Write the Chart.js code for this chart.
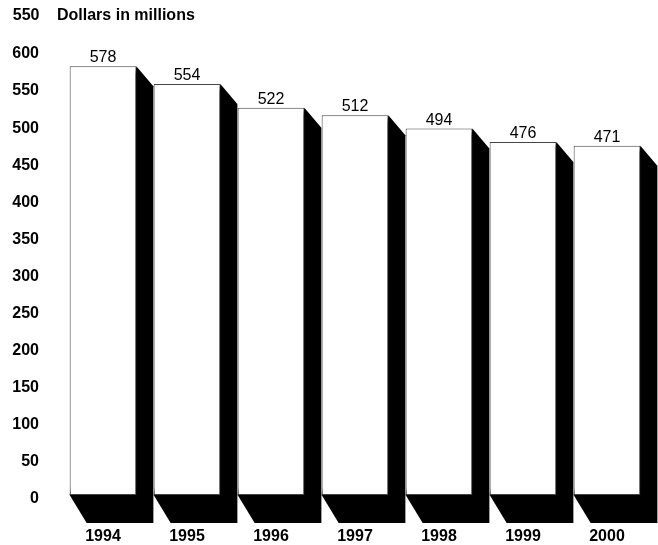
<!DOCTYPE html>
<html>
<head>
<meta charset="utf-8">
<script src="https://cdn.jsdelivr.net/npm/chart.js@4.4.0/dist/chart.umd.min.js"></script>
<style>
  body { margin: 0; background: #fff; }
  canvas { display: block; }
</style>
</head>
<body>
<canvas id="chart" width="658" height="545"></canvas>
<script>
// Data
const years = ['1994', '1995', '1996', '1997', '1998', '1999', '2000'];
const values = [578, 554, 522, 512, 494, 476, 471];
const yMin = 0;
const yMax = 600;
const yStep = 50;
const unitLabel = 'Dollars in millions';
const headerNumber = '550';

const FONT = '"Liberation Sans", Arial, Helvetica, sans-serif';

// Black depth behind each bar, plus the header text
const depthPlugin = {
  id: 'depth',
  beforeDatasetsDraw(chart) {
    const ctx = chart.ctx;
    const meta = chart.getDatasetMeta(0);
    const dx = 17, dyTop = 20, dyBottom = 28;
    ctx.save();
    ctx.fillStyle = '#000';
    meta.data.forEach(bar => {
      const left = bar.x - bar.width / 2;
      const right = bar.x + bar.width / 2;
      ctx.beginPath();
      ctx.moveTo(right, bar.y);
      ctx.lineTo(right + dx, bar.y + dyTop);
      ctx.lineTo(right + dx, bar.base + dyBottom);
      ctx.lineTo(left + dx, bar.base + dyBottom);
      ctx.lineTo(left, bar.base);
      ctx.closePath();
      ctx.fill();
    });
    ctx.restore();
  },
  afterDatasetsDraw(chart) {
    const ctx = chart.ctx;
    const meta = chart.getDatasetMeta(0);
    ctx.save();
    ctx.fillStyle = '#000';
    ctx.textAlign = 'center';
    ctx.textBaseline = 'alphabetic';
    ctx.font = '16px ' + FONT;
    meta.data.forEach((bar, i) => {
      ctx.fillText(String(values[i]), bar.x, bar.y - 4);
    });
    // header line
    ctx.font = 'bold 16px ' + FONT;
    ctx.textBaseline = 'middle';
    ctx.textAlign = 'right';
    ctx.fillText(headerNumber, 39.5, 16);
    ctx.textAlign = 'left';
    ctx.fillText(unitLabel, 57, 16);
    ctx.restore();
  }
};

new Chart(document.getElementById('chart'), {
  type: 'bar',
  data: {
    labels: years,
    datasets: [{
      data: values,
      backgroundColor: '#fff',
      borderColor: '#444',
      borderWidth: 1,
      borderSkipped: false,
      categoryPercentage: 1,
      barPercentage: 0.794,
      clip: false
    }]
  },
  options: {
    responsive: false,
    animation: false,
    devicePixelRatio: 1,
    layout: { padding: { top: 50, right: 9, left: 0, bottom: 0 } },
    plugins: {
      legend: { display: false },
      tooltip: { enabled: false }
    },
    scales: {
      x: {
        grid: { display: false, drawTicks: false },
        border: { display: false },
        ticks: {
          color: '#000',
          font: { family: FONT, size: 16, weight: 'bold' },
          padding: 32
        },
        afterFit(scale) { scale.height = 50; }
      },
      y: {
        min: yMin,
        max: yMax,
        grid: { display: false, drawTicks: false },
        border: { display: false },
        ticks: {
          stepSize: yStep,
          color: '#000',
          font: { family: FONT, size: 16, weight: 'bold' },
          padding: 22,
          labelOffset: 4
        },
        afterFit(scale) { scale.width = 61; }
      }
    }
  },
  plugins: [depthPlugin]
});
</script>
</body>
</html>
